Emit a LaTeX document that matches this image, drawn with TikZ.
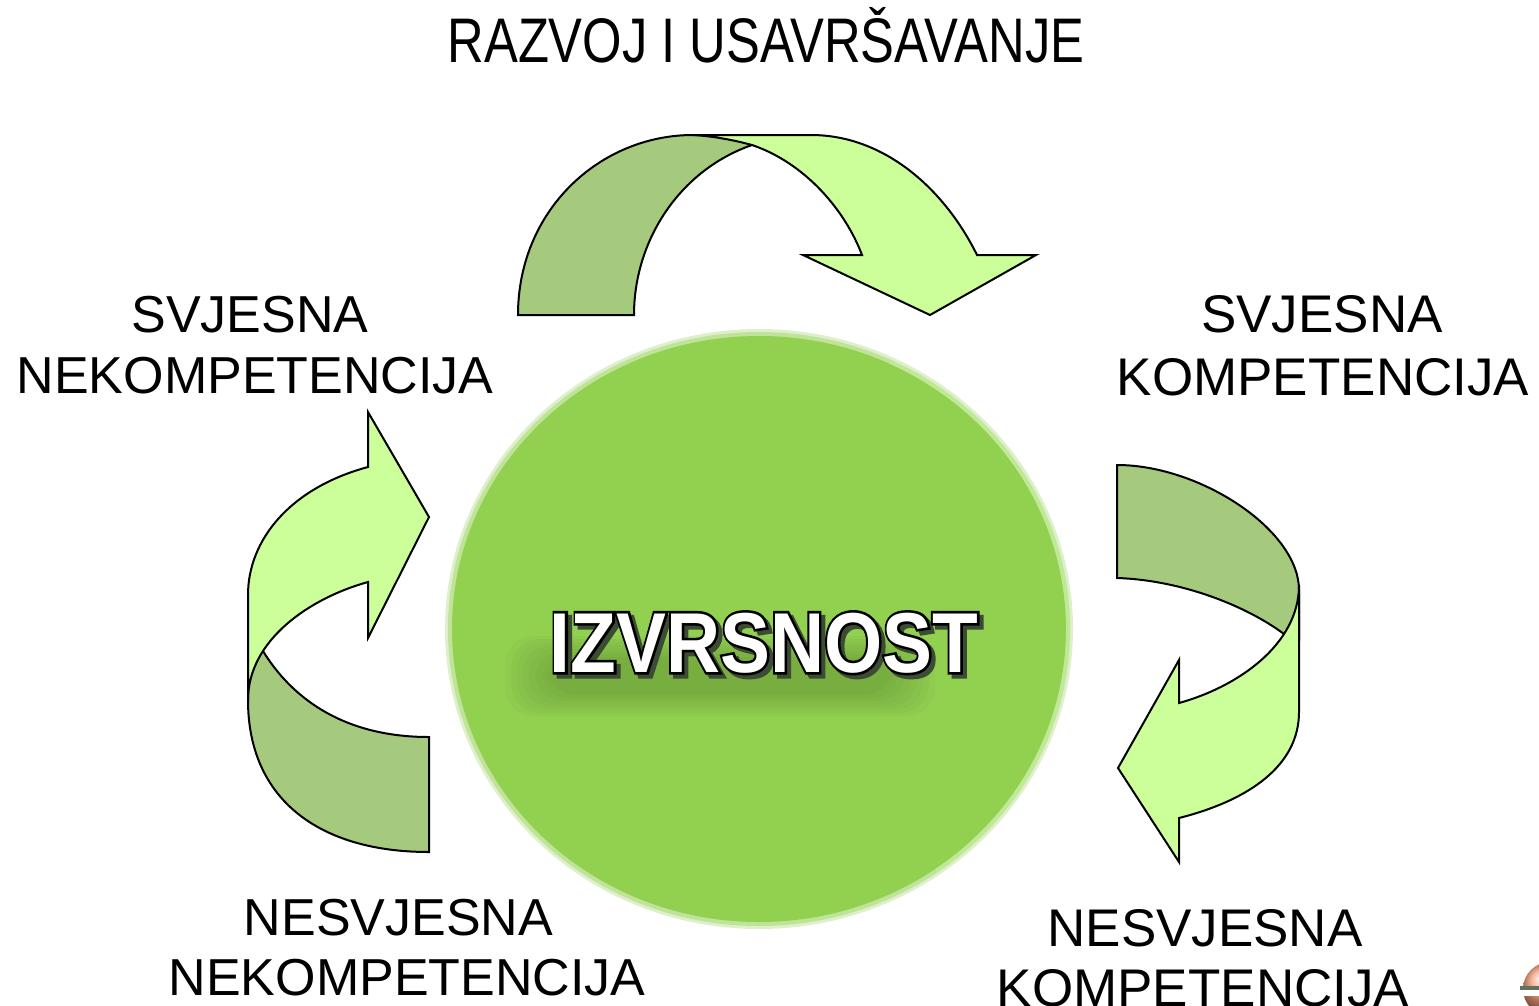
\documentclass[tikz,border=0pt]{standalone}
\usepackage{fontspec}
\usepackage{graphicx}
\setmainfont{Liberation Sans}
\newfontfamily\izvfat[FakeBold=6]{Liberation Sans Bold}
\newfontfamily\izvplain{Liberation Sans Bold}
\definecolor{darkg}{HTML}{A6CA7D}
\definecolor{lightg}{HTML}{CCFF99}
\definecolor{ballg}{HTML}{92D050}
\definecolor{rimg}{HTML}{C2EE97}
\definecolor{shadowg}{HTML}{3C4B33}
\definecolor{blurg}{HTML}{2E4A18}
\definecolor{peach}{HTML}{F4A07C}
\newcommand{\izvword}[1]{\scalebox{0.88}[1]{\fontsize{85}{85}#1\selectfont IZVRSNOST}}
\begin{document}
\begin{tikzpicture}[x=1pt,y=-1pt,
  lbl/.style={anchor=base,inner sep=0pt,font=\fontsize{52}{52}\selectfont},
  lblr/.style={anchor=base,inner sep=0pt,font=\fontsize{53}{53}\selectfont},
  ribbon/.style={draw=black,line width=2pt,line join=miter},
  izv/.style={anchor=base,inner sep=0pt},
  blurbox/.style={fill=blurg,fill opacity=0.03,rounded corners=28pt}]
\fill[white] (0,0) rectangle (1539,1005);
\useasboundingbox (0,0) rectangle (1539,1005);

% ---------- central ball ----------
\fill[ballg,opacity=0.3] (759,629) ellipse [x radius=314, y radius=300];
\fill[ballg,opacity=0.4] (759,629) ellipse [x radius=311, y radius=297];
\fill[ballg] (759,629) ellipse [x radius=307, y radius=293];
\draw[rimg,opacity=0.6,line width=4pt] (759,629) ++(-65:309 and 295) arc[start angle=-65,end angle=55,x radius=309,y radius=295];

% blurred shadow of the word (soft dark patch)
\foreach \k in {0,...,7}{
  \fill[blurg,fill opacity=0.03,rounded corners=28pt]
    ({505+6*\k},{636+3*\k}) rectangle ({935-6*\k},{716-3*\k});
}

% drop shadow, outline, white letters
\node[izv,text=shadowg] (izvshadow) at (768,676) {\izvword{\izvfat}};
\node[izv,text=black] (izvoutline) at (764,672) {\izvword{\izvfat}};
\node[izv,text=white] (izvrsnost) at (764,672) {\izvword{\izvplain}};

% ---------- top arrow ----------
\path[ribbon,fill=darkg] (518,315) .. controls (518,210) and (600,135) .. (693,135)
  -- (752,135) -- (752,145) .. controls (680,170) and (634,240) .. (634,315) -- cycle;
\path[ribbon,fill=lightg] (693,135) -- (811,135) .. controls (885,135) and (945,190) .. (977,255)
  -- (1036,255) -- (930,315) -- (803,255) -- (862,255)
  .. controls (845,210) and (805,163) .. (752,145)
  .. controls (730,139) and (710,136) .. (693,135) -- cycle;

% ---------- left arrow ----------
\path[ribbon,fill=darkg] (429,737) -- (429,852) .. controls (320,852) and (248,800) .. (248,700)
  -- (248,640) -- (263,651) .. controls (290,695) and (340,737) .. (429,737) -- cycle;
\path[ribbon,fill=lightg] (368,412) -- (429,517) -- (368,638) -- (368,582)
  .. controls (310,598) and (248,640) .. (248,700) -- (248,595)
  .. controls (248,540) and (290,488) .. (368,467) -- cycle;

% ---------- right arrow ----------
\path[ribbon,fill=darkg] (1117,465) .. controls (1200,465) and (1299,530) .. (1299,590)
  -- (1299,640) -- (1284,634) .. controls (1245,605) and (1180,580) .. (1117,578) -- cycle;
\path[ribbon,fill=lightg] (1179,862) -- (1118,768) -- (1179,660) -- (1179,703)
  .. controls (1237,687) and (1299,645) .. (1299,585) -- (1299,712)
  .. controls (1299,765) and (1250,800) .. (1179,818) -- cycle;

% ---------- labels ----------
\node[anchor=base,inner sep=0pt] (title) at (766,62)
  {\scalebox{0.805}[1]{\fontsize{63}{63}\selectfont RAZVOJ I USAVRŠAVANJE}};
\node[lbl] (tl1) at (250,332) {SVJESNA};
\node[lbl] (tl2) at (255,393) {NEKOMPETENCIJA};
\node[lblr] (tr1) at (1322,332) {SVJESNA};
\node[lblr] (tr2) at (1323,395) {KOMPETENCIJA};
\node[lbl] (bl1) at (398.5,935) {NESVJESNA};
\node[lbl] (bl2) at (407,995) {NEKOMPETENCIJA};
\node[lblr] (br1) at (1205,946) {NESVJESNA};
\node[lblr] (br2) at (1203,1006) {KOMPETENCIJA};

% ---------- small corner ornament ----------
\begin{scope}
\clip (0,0) rectangle (1539,1005);
\shade[ball color=peach] (1550,989) circle[radius=27];
\fill[white] (1520,989) rectangle (1539,996);
\fill[shadowg!80] (1520,986) rectangle (1539,989.5);
\end{scope}
\end{tikzpicture}
\end{document}
